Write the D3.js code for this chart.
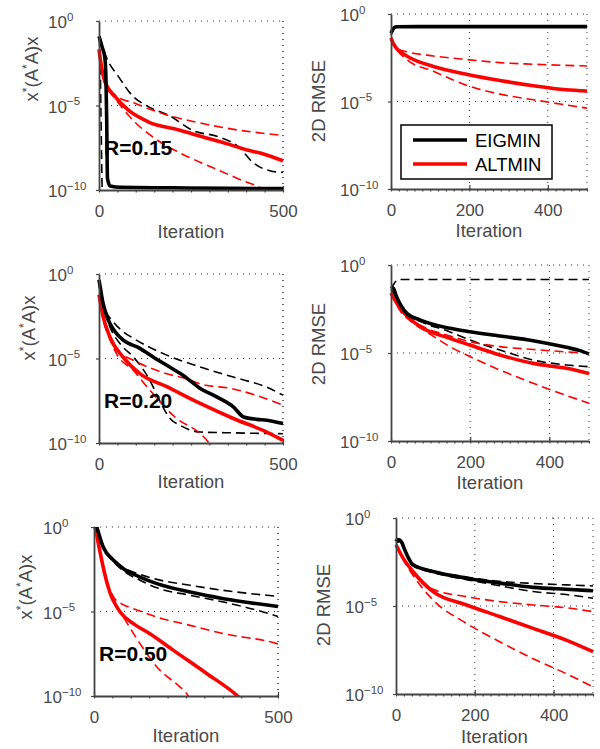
<!DOCTYPE html>
<html>
<head>
<meta charset="utf-8">
<script src="https://cdn.jsdelivr.net/npm/d3@7"></script>
<style>
  body { margin: 0; background: #fff; }
  text { font-family: "Liberation Sans", Arial, Helvetica, sans-serif; }
</style>
</head>
<body>
<div id="chart"></div>
<script>
// each series: [iteration, log10(value)]
// R = 0.15, residual x*(A*A)x
const r15ResEig = [[0,-0.9],[8,-1.5],[16,-2.2],[19,-3.5],[21,-6],[23,-9.3],[30,-9.76],[60,-9.84],[200,-9.87],[350,-9.9],[500,-9.92]];
const r15ResEigD1 = [[0,-1.0],[3,-2.2],[5,-5],[7,-8],[9,-10.5]];
const r15ResEigD2 = [[0,-1.0],[12,-1.7],[21,-2.2],[53,-3.29],[89,-4.38],[135,-5.08],[190,-5.58],[254,-6.47],[327,-6.87],[381,-7.47],[418,-8.37],[464,-8.86],[500,-8.96]];
const r15ResAlt = [[0,-1.69],[6,-2.6],[16,-3.59],[44,-4.48],[80,-5.28],[135,-5.98],[217,-6.45],[281,-6.85],[354,-7.3],[400,-7.62],[445,-7.85],[500,-8.27]];
const r15ResAltD1 = [[0,-1.69],[16,-3.59],[44,-4.4],[99,-4.88],[172,-5.48],[263,-5.98],[354,-6.37],[500,-6.77]];
const r15ResAltD2 = [[0,-1.69],[16,-3.65],[44,-4.58],[80,-5.58],[153,-6.97],[217,-7.77],[308,-8.67],[381,-9.36],[445,-9.96],[460,-10.2]];

// R = 0.15, 2D RMSE
const r15RmseEig = [[0,-1.1],[3,-0.95],[8,-0.78],[15,-0.73],[100,-0.72],[500,-0.72]];
const r15RmseEigD1 = [[0,-1.2],[5,-0.9],[12,-0.75],[500,-0.72]];
const r15RmseEigD2 = [[0,-1.0],[6,-0.85],[15,-0.74],[500,-0.72]];
const r15RmseAlt = [[0,-1.37],[5,-1.65],[14,-1.96],[30,-2.25],[48,-2.5],[108,-3.0],[201,-3.48],[278,-3.8],[363,-4.1],[447,-4.33],[500,-4.4]];
const r15RmseAltD1 = [[0,-1.37],[14,-1.96],[40,-2.15],[108,-2.4],[201,-2.62],[278,-2.78],[363,-2.87],[500,-2.97]];
const r15RmseAltD2 = [[0,-1.37],[14,-2.0],[40,-2.6],[108,-3.27],[201,-4.14],[278,-4.58],[363,-4.9],[500,-5.38]];

// R = 0.20, residual
const r20ResEig = [[0,-0.34],[5,-1.0],[11,-1.72],[20,-2.4],[29,-2.9],[45,-3.45],[65,-3.9],[111,-4.4],[150,-4.95],[184,-5.4],[229,-6.0],[275,-6.77],[320,-7.27],[365,-7.86],[393,-8.46],[430,-8.6],[456,-8.65],[500,-8.85]];
const r20ResEigD1 = [[0,-0.6],[15,-2.0],[38,-2.8],[65,-3.4],[93,-3.8],[184,-4.8],[275,-5.5],[365,-6.1],[456,-6.7],[500,-7.17]];
const r20ResEigD2 = [[0,-0.6],[15,-2.2],[29,-3.1],[60,-4.2],[93,-4.9],[138,-6.28],[165,-7.5],[193,-8.55],[220,-8.95],[275,-9.35],[365,-9.4],[500,-9.45]];
const r20ResAlt = [[0,-1.23],[11,-2.5],[29,-3.7],[65,-4.9],[111,-5.9],[184,-6.67],[275,-7.66],[365,-8.55],[456,-9.35],[500,-9.84]];
const r20ResAltD1 = [[0,-1.23],[11,-2.6],[29,-3.8],[47,-4.5],[93,-5.1],[184,-5.9],[238,-6.2],[275,-6.5],[365,-6.8],[430,-7.2],[500,-7.76]];
const r20ResAltD2 = [[0,-1.23],[11,-2.6],[29,-3.8],[47,-4.7],[93,-5.7],[138,-6.87],[211,-8.55],[275,-9.44],[293,-9.84],[305,-10.2]];

// R = 0.20, 2D RMSE
const r20RmseEig = [[0,-1.33],[5,-1.3],[14,-1.8],[25,-2.3],[40,-2.75],[73,-3.12],[149,-3.6],[199,-3.79],[275,-4.03],[359,-4.3],[443,-4.68],[475,-4.85],[500,-5.05]];
const r20RmseEigD1 = [[0,-1.33],[8,-1.05],[18,-0.82],[500,-0.82]];
const r20RmseEigD2 = [[0,-1.4],[14,-1.85],[40,-2.8],[73,-3.2],[149,-3.8],[199,-4.26],[275,-4.83],[359,-5.4],[443,-5.68],[500,-5.78]];
const r20RmseAlt = [[0,-1.6],[10,-2.0],[23,-2.46],[45,-3.0],[73,-3.5],[149,-4.17],[199,-4.55],[275,-5.11],[359,-5.59],[443,-5.87],[500,-6.16]];
const r20RmseAltD1 = [[0,-1.6],[23,-2.5],[50,-3.1],[90,-3.6],[149,-4.03],[199,-4.36],[275,-4.64],[359,-4.8],[500,-5.02]];
const r20RmseAltD2 = [[0,-1.6],[23,-2.6],[50,-3.2],[90,-3.8],[149,-4.64],[199,-5.2],[275,-5.97],[359,-6.72],[500,-7.86]];

// R = 0.50, residual
const r50ResEig = [[7,0.05],[25,-1.18],[53,-1.97],[80,-2.47],[125,-2.96],[171,-3.35],[261,-3.85],[352,-4.24],[500,-4.7]];
const r50ResEigD1 = [[7,0.05],[25,-1.15],[53,-1.9],[80,-2.4],[125,-2.8],[171,-3.1],[261,-3.45],[352,-3.75],[470,-4.04],[500,-4.1]];
const r50ResEigD2 = [[7,0.05],[25,-1.2],[53,-2.05],[80,-2.6],[125,-3.15],[171,-3.6],[261,-4.04],[352,-4.44],[460,-5.03],[500,-5.3]];
const r50ResAlt = [[0,0.1],[3,0],[12,-1.0],[25,-2.37],[38,-3.5],[48,-4.14],[60,-4.65],[71,-5.03],[107,-5.72],[152,-6.31],[216,-7.3],[307,-8.68],[388,-9.96],[400,-10.2]];
const r50ResAltD1 = [[0,0.1],[12,-1.0],[25,-2.37],[40,-3.5],[55,-4.2],[75,-4.55],[107,-4.83],[171,-5.33],[261,-5.82],[352,-6.31],[497,-6.9],[500,-6.92]];
const r50ResAltD2 = [[0,0.1],[12,-1.05],[30,-3.06],[50,-4.2],[80,-5.33],[125,-6.9],[171,-8.28],[234,-9.47],[248,-9.76],[260,-10.1]];

// R = 0.50, 2D RMSE
const r50RmseEig = [[0,-1.33],[4,-1.22],[9,-1.24],[15,-1.4],[22,-1.8],[30,-2.2],[43,-2.66],[94,-3.04],[179,-3.42],[263,-3.7],[348,-3.94],[432,-4.05],[500,-4.13]];
const r50RmseEigD1 = [[0,-1.4],[10,-1.3],[22,-1.8],[43,-2.6],[94,-3.0],[179,-3.35],[263,-3.6],[348,-3.72],[432,-3.8],[500,-3.86]];
const r50RmseEigD2 = [[0,-1.4],[10,-1.35],[22,-1.85],[43,-2.7],[94,-3.1],[179,-3.5],[263,-3.85],[348,-4.18],[432,-4.35],[500,-4.56]];
const r50RmseAlt = [[0,-1.52],[18,-2.28],[43,-3.04],[94,-4.18],[179,-4.94],[263,-5.6],[348,-6.27],[432,-6.94],[500,-7.6]];
const r50RmseAltD1 = [[0,-1.52],[18,-2.3],[43,-3.1],[94,-4.05],[179,-4.47],[263,-4.75],[348,-4.94],[432,-5.1],[500,-5.32]];
const r50RmseAltD2 = [[0,-1.52],[18,-2.35],[43,-3.25],[94,-4.66],[179,-5.99],[263,-7.03],[348,-8.0],[432,-8.84],[500,-9.6]];

const yTicks = [1, 1e-5, 1e-10];
const yTickExp = ["0", "\u22125", "\u221210"];
const leftXTicks = [0, 500];
const rightXTicks = [0, 200, 400];
const legendNames = ["EIGMIN", "ALTMIN"];
const rLabels = ["R=0.15", "R=0.20", "R=0.50"];

const W = 600, H = 749;
const axisColor = "#444", textColor = "#4a4a4a";

const panels = [
  { l: 99, t: 21, r: 283, b: 190, kind: "res", xt: leftXTicks, minor: 50, ylx: 38, yly: 69, xlb: 238, rl: rLabels[0],
    eig: [r15ResEig, r15ResEigD1, r15ResEigD2], alt: [r15ResAlt, r15ResAltD1, r15ResAltD2] },
  { l: 391, t: 14, r: 587, b: 189, kind: "rmse", xt: rightXTicks, minor: 20, ylx: 325, yly: 101, xlb: 237, legend: true,
    eig: [r15RmseEig, r15RmseEigD1, r15RmseEigD2], alt: [r15RmseAlt, r15RmseAltD1, r15RmseAltD2] },
  { l: 99, t: 274, r: 283, b: 443, kind: "res", xt: leftXTicks, minor: 50, ylx: 35, yly: 328, xlb: 488, rl: rLabels[1],
    eig: [r20ResEig, r20ResEigD1, r20ResEigD2], alt: [r20ResAlt, r20ResAltD1, r20ResAltD2] },
  { l: 391, t: 265, r: 589, b: 441, kind: "rmse", xt: rightXTicks, minor: 20, ylx: 325, yly: 344, xlb: 489,
    eig: [r20RmseEig, r20RmseEigD1, r20RmseEigD2], alt: [r20RmseAlt, r20RmseAltD1, r20RmseAltD2] },
  { l: 94, t: 527, r: 278, b: 696, kind: "res", xt: leftXTicks, minor: 50, ylx: 32, yly: 587, xlb: 742, rl: rLabels[2],
    eig: [r50ResEig, r50ResEigD1, r50ResEigD2], alt: [r50ResAlt, r50ResAltD1, r50ResAltD2] },
  { l: 396, t: 518, r: 593, b: 694, kind: "rmse", xt: rightXTicks, minor: 20, ylx: 330, yly: 605, xlb: 743,
    eig: [r50RmseEig, r50RmseEigD1, r50RmseEigD2], alt: [r50RmseAlt, r50RmseAltD1, r50RmseAltD2] }
];

const svg = d3.select("#chart").append("svg")
  .attr("width", W).attr("height", H);

panels.forEach((p, i) => {
  const x = d3.scaleLinear().domain([0, 500]).range([p.l, p.r]);
  const y = d3.scaleLog().domain([1e-10, 1]).range([p.b, p.t]);
  const g = svg.append("g");

  // dotted grid
  const grid = g.append("g").attr("stroke", "#333").attr("stroke-width", 1)
    .attr("stroke-dasharray", "1,5");
  yTicks.filter(v => v > 1e-10).forEach(v => {
    grid.append("line").attr("x1", p.l).attr("x2", p.r).attr("y1", y(v)).attr("y2", y(v));
  });
  p.xt.concat([500]).filter(v => v > 0).forEach(v => {
    grid.append("line").attr("x1", x(v)).attr("x2", x(v)).attr("y1", p.t).attr("y2", p.b);
  });

  // lines
  const clipId = "clip" + i;
  g.append("clipPath").attr("id", clipId).append("rect")
    .attr("x", p.l - 2).attr("y", p.t).attr("width", p.r - p.l + 4).attr("height", p.b - p.t);
  const line = d3.line()
    .x(d => x(d[0]))
    .y(d => y(Math.pow(10, d[1])))
    .curve(d3.curveMonotoneX);
  const lg = g.append("g").attr("clip-path", `url(#${clipId})`);
  const draw = (data, color, solid) => lg.append("path")
    .datum(data)
    .attr("fill", "none")
    .attr("stroke", color)
    .attr("stroke-width", solid ? 3.6 : 1.6)
    .attr("stroke-dasharray", solid ? null : "9,5")
    .attr("stroke-linejoin", "round")
    .attr("d", line);
  draw(p.eig[1], "#000", false);
  draw(p.eig[2], "#000", false);
  draw(p.alt[1], "#ff0000", false);
  draw(p.alt[2], "#ff0000", false);
  draw(p.alt[0], "#ff0000", true);
  draw(p.eig[0], "#000", true);

  // x axis: minor outward ticks, major inward ticks with labels
  const xMinor = g.append("g").attr("transform", `translate(0,${p.b})`)
    .call(d3.axisBottom(x).tickValues(d3.range(0, 501, p.minor)).tickSize(2.5).tickSizeOuter(0).tickFormat(""));
  const xMajor = g.append("g").attr("transform", `translate(0,${p.b})`)
    .call(d3.axisBottom(x).tickValues(p.xt).tickSize(-4).tickSizeOuter(0).tickPadding(15));
  [xMinor, xMajor].forEach(a => {
    a.selectAll("path, line").attr("stroke", axisColor).attr("stroke-width", 1.2);
  });
  xMinor.select(".domain").attr("stroke-width", 1.8);
  xMajor.select(".domain").remove();
  xMajor.selectAll("text").attr("fill", textColor).style("font-size", "17px")
    .style("font-family", '"Liberation Sans", Arial, sans-serif');

  // y axis
  const yAx = g.append("g").attr("transform", `translate(${p.l},0)`)
    .call(d3.axisLeft(y).tickValues(yTicks).tickSize(3).tickSizeOuter(0).tickFormat(""));
  yAx.selectAll("line").attr("stroke", axisColor).attr("stroke-width", 1.2);
  yAx.select(".domain").attr("stroke", axisColor).attr("stroke-width", 1.8);
  yTicks.forEach((v, k) => {
    const t = g.append("text").attr("x", p.l - 51).attr("y", y(v) + 7)
      .attr("fill", textColor).style("font-size", "17px");
    t.append("tspan").text("10");
    t.append("tspan").attr("dy", -7.5).style("font-size", "11.5px").text(yTickExp[k]);
  });

  // axis labels
  g.append("text").attr("x", (p.l + p.r) / 2).attr("y", p.xlb)
    .attr("text-anchor", "middle").attr("fill", textColor).style("font-size", "18.5px")
    .text("Iteration");
  const yl = g.append("text")
    .attr("transform", `translate(${p.ylx},${p.yly}) rotate(-90)`)
    .attr("text-anchor", "middle").attr("fill", textColor).style("font-size", "18.5px");
  if (p.kind === "res") {
    yl.append("tspan").text("x");
    yl.append("tspan").attr("dy", -7).style("font-size", "12px").text("*");
    yl.append("tspan").attr("dy", 7).text("(A");
    yl.append("tspan").attr("dy", -7).style("font-size", "12px").text("*");
    yl.append("tspan").attr("dy", 7).text("A)x");
  } else {
    yl.text("2D RMSE");
  }

  if (p.rl) {
    g.append("text").attr("x", p.l + 5).attr("y", p.t + 134)
      .attr("fill", "#000").style("font-size", "21px").style("font-weight", "bold")
      .text(p.rl);
  }

  if (p.legend) {
    const lgd = g.append("g").attr("transform", `translate(${p.l + 10},${p.t + 111})`);
    lgd.append("rect").attr("width", 151).attr("height", 54)
      .attr("fill", "#fff").attr("stroke", "#000").attr("stroke-width", 1.5);
    legendNames.forEach((name, k) => {
      const cy = 15 + k * 24;
      lgd.append("line").attr("x1", 12).attr("x2", 66).attr("y1", cy).attr("y2", cy)
        .attr("stroke", k === 0 ? "#000" : "#ff0000").attr("stroke-width", 3.6);
      lgd.append("text").attr("x", 74).attr("y", cy + 7)
        .attr("fill", "#000").style("font-size", "18.5px").text(name);
    });
  }
});
</script>
</body>
</html>
